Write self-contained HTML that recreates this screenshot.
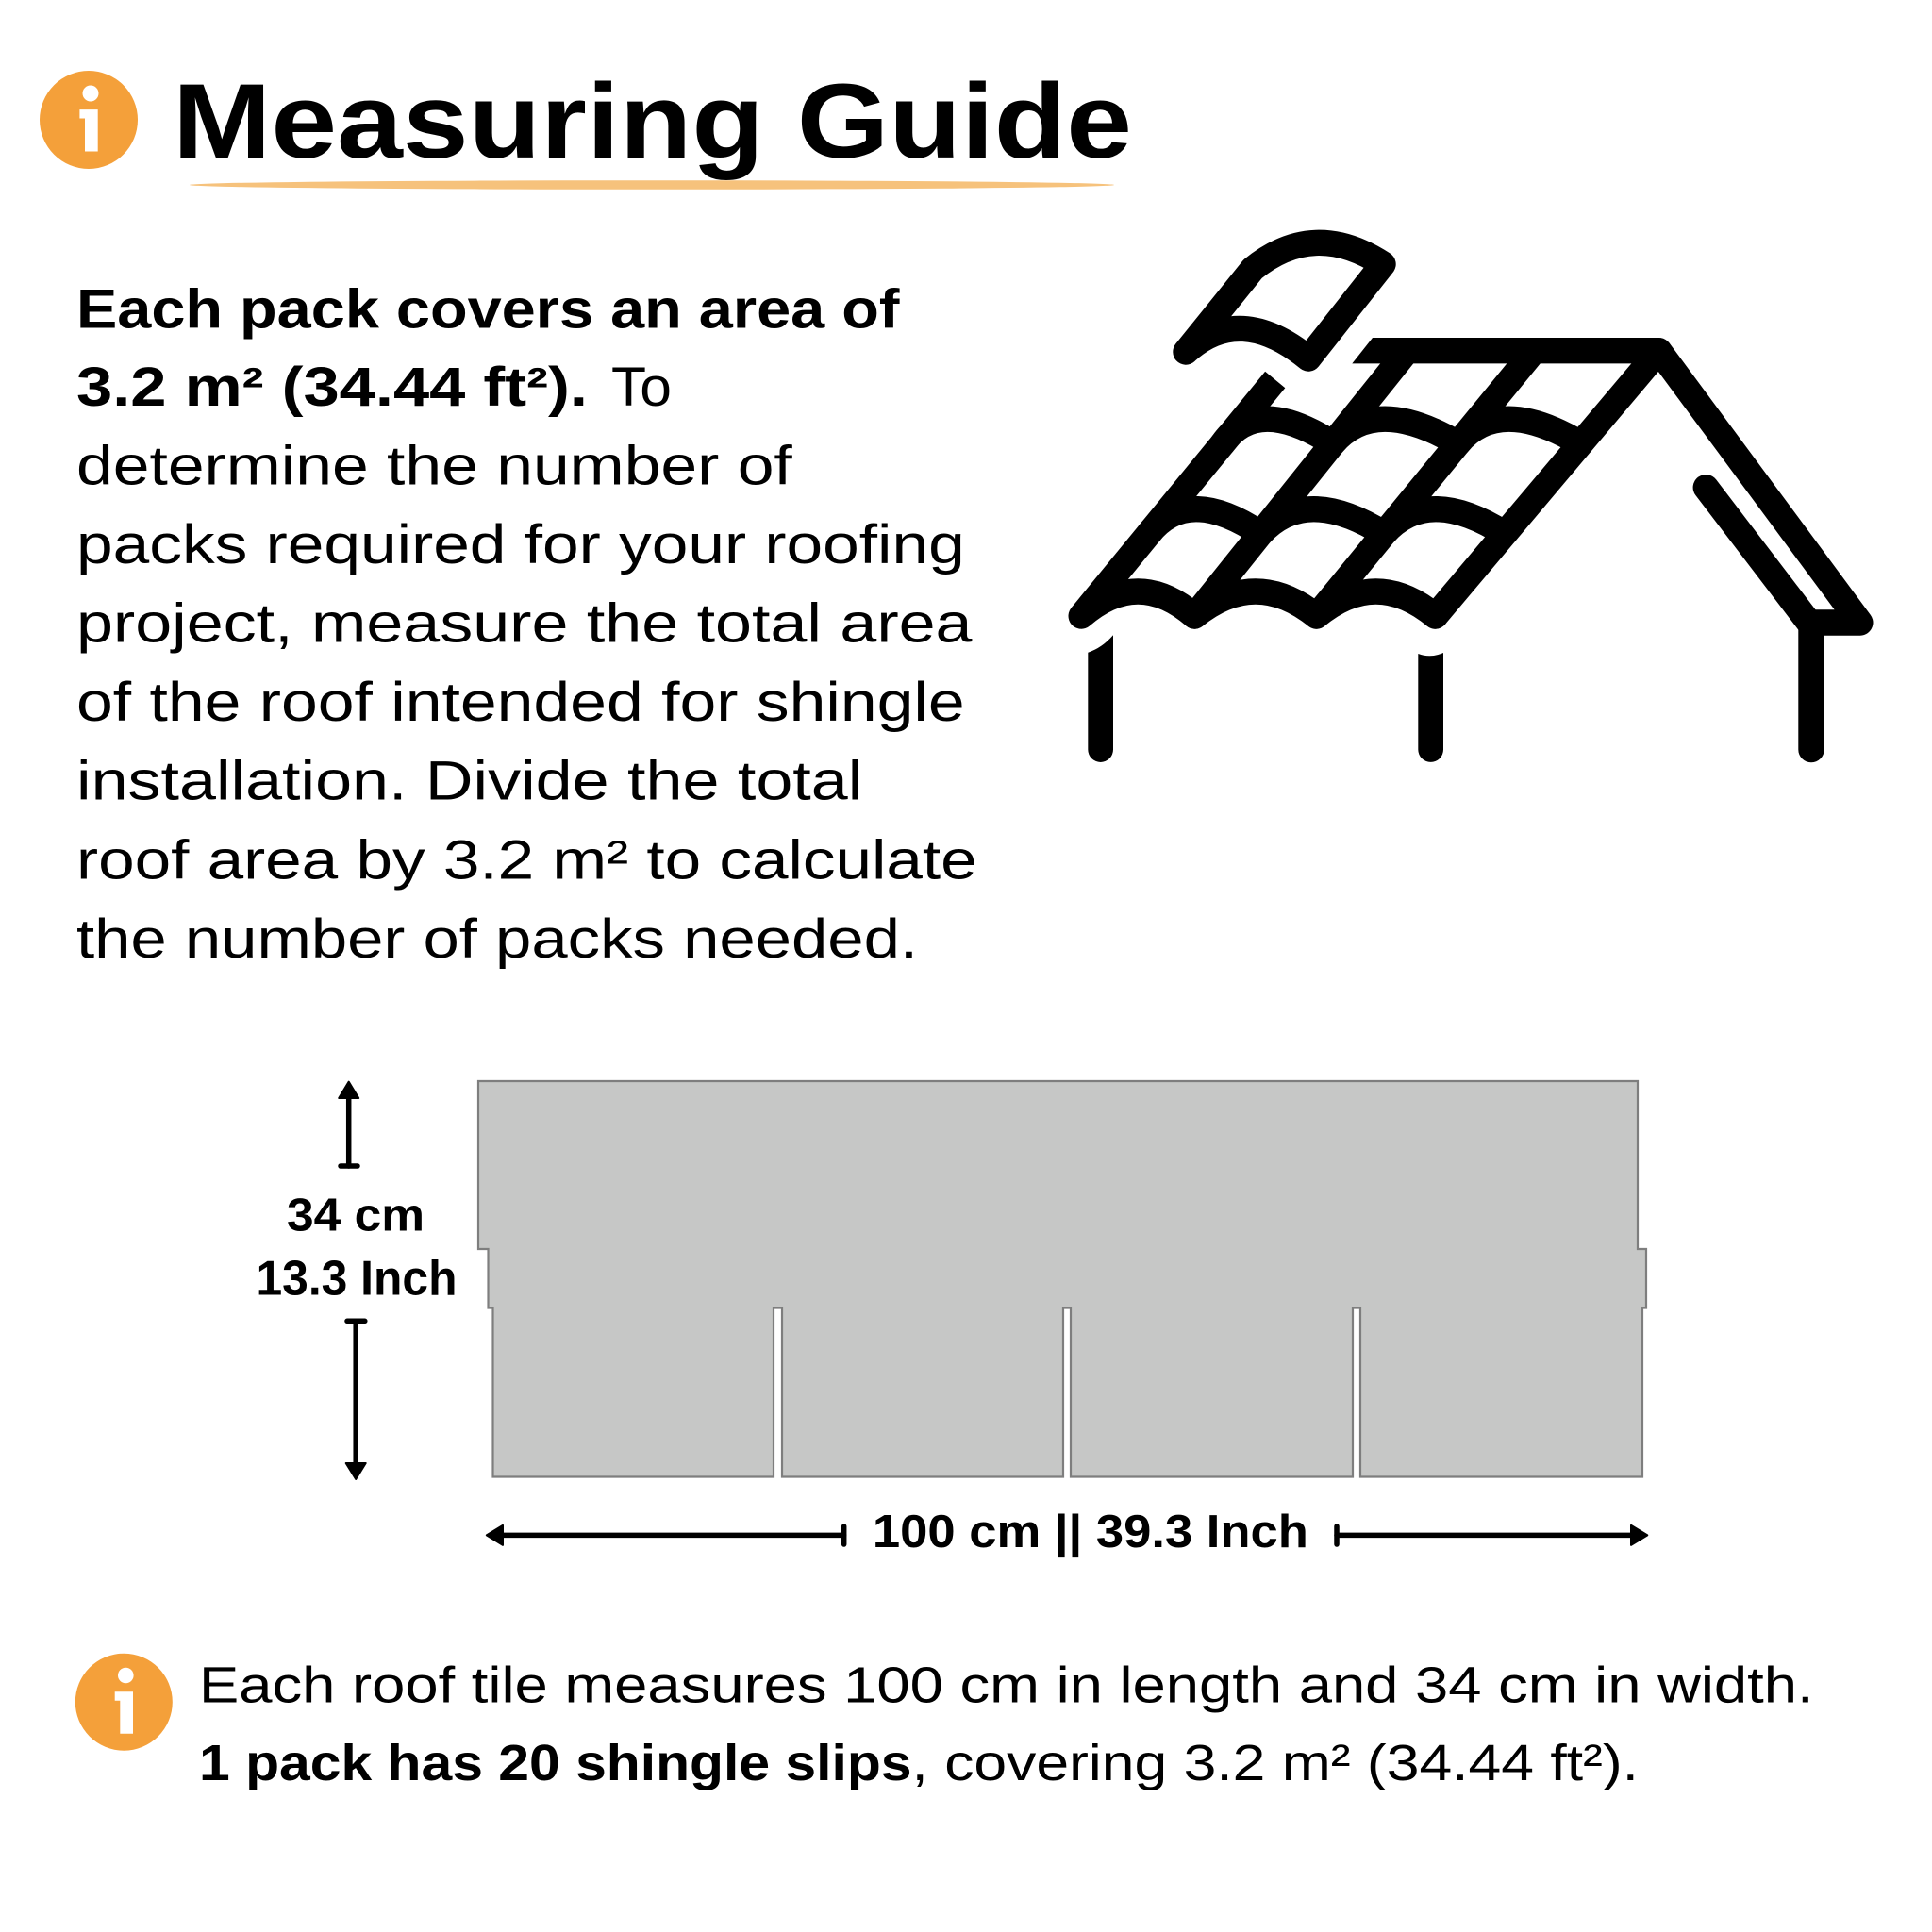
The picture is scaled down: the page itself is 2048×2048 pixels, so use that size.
<!DOCTYPE html>
<html>
<head>
<meta charset="utf-8">
<style>
  html, body { margin: 0; padding: 0; background: #ffffff; }
  svg { display: block; }
  text { font-family: "Liberation Sans", "DejaVu Sans", sans-serif; fill: #000; }
</style>
</head>
<body>
<svg xmlns="http://www.w3.org/2000/svg" width="2048" height="2048" viewBox="0 0 2048 2048">
  <rect x="0" y="0" width="2048" height="2048" fill="#ffffff"/>

  <!-- Title icon -->
  <g transform="translate(94,127)">
    <circle r="52" fill="#F4A03A"/>
    <circle cx="2" cy="-28" r="8.5" fill="#fff"/>
    <path d="M-9.6,-10.9 H9.7 V33.5 H-4 V-1.5 H-9.6 Z" fill="#fff"/>
  </g>

  <!-- Title underline -->
  <ellipse cx="691" cy="196" rx="490" ry="4.8" fill="#F6C27C"/>

  <!-- Title -->
  <text x="183" y="167" font-size="112" font-weight="bold" textLength="1017" lengthAdjust="spacingAndGlyphs">Measuring Guide</text>

  <!-- Paragraph -->
  <g font-size="58">
    <text x="81" y="347.5" font-weight="bold" textLength="872.5" lengthAdjust="spacingAndGlyphs">Each pack covers an area of</text>
    <text x="81" y="430" font-weight="bold" textLength="542" lengthAdjust="spacingAndGlyphs">3.2 m² (34.44 ft²).</text>
    <text x="648" y="430" textLength="64" lengthAdjust="spacingAndGlyphs">To</text>
    <text x="81" y="513.5" textLength="758.8" lengthAdjust="spacingAndGlyphs">determine the number of</text>
    <text x="81" y="597" textLength="941.7" lengthAdjust="spacingAndGlyphs">packs required for your roofing</text>
    <text x="81" y="680.5" textLength="949.5" lengthAdjust="spacingAndGlyphs">project, measure the total area</text>
    <text x="81" y="764" textLength="941.7" lengthAdjust="spacingAndGlyphs">of the roof intended for shingle</text>
    <text x="81" y="847.5" textLength="833.3" lengthAdjust="spacingAndGlyphs">installation. Divide the total</text>
    <text x="81" y="931.5" textLength="954.7" lengthAdjust="spacingAndGlyphs">roof area by 3.2 m² to calculate</text>
    <text x="81" y="1015" textLength="892" lengthAdjust="spacingAndGlyphs">the number of packs needed.</text>
  </g>

  <!-- House icon -->
  <g fill="none" stroke="#000" stroke-width="27.4" stroke-linecap="round" stroke-linejoin="round">
    <!-- flying tile -->
    <path d="M1257,373 L1328,285 Q1393,232.3 1466,280 L1387,380 Q1314,320.5 1257,373 Z"/>
    <!-- column lines -->
    <line x1="1351.7" y1="402.5" x2="1146.2" y2="653" stroke-linecap="butt"/>
    <line x1="1491.4" y1="372" x2="1266.3" y2="653"/>
    <line x1="1626" y1="372" x2="1395.5" y2="653"/>
    <line x1="1758.5" y1="372" x2="1521.4" y2="653"/>
    <!-- tile rows -->
    <path d="M1146.2,653 Q1206.25,601 1266.3,653 Q1330.9,601 1395.5,653 Q1458.45,601 1521.4,653"/>
    <path d="M1217.8,565.7 Q1259,513.7 1336.3,565.7 Q1383.7,513.7 1467.1,565.7 Q1513,513.7 1595,565.7"/>
    <path d="M1296.1,470.2 Q1332.5,418.2 1412.8,470.2 Q1457.1,418.2 1545.4,470.2 Q1588.5,418.2 1675.5,470.2"/>
    <!-- right slope, eave, right wall -->
    <path d="M1758.5,371.7 L1971.8,660 L1920,660 L1920,794.6"/>
    <!-- inner right line -->
    <path d="M1808.3,516.7 L1920,663"/>
  </g>
  <!-- ridge bar -->
  <polygon points="1455,358 1758.5,358 1758.5,385.4 1433.3,385.4" fill="#000"/>
  <!-- walls -->
  <path d="M1153.3,691.7 Q1168,687 1180,673.3 L1180,794.6 A13.35,13.35 0 0 1 1153.3,794.6 Z" fill="#000"/>
  <path d="M1503.3,693 Q1516.7,698 1530,692 L1530,794.6 A13.35,13.35 0 0 1 1503.3,794.6 Z" fill="#000"/>

  <!-- Shingle -->
  <path d="M507,1146 H1736 V1324 H1745 V1386.5 H1741 V1565.5 H1442 V1386.5 H1434 V1565.5 H1135 V1386.5 H1127 V1565.5 H829 V1386.5 H820 V1565.5 H522.5 V1386.5 H517.5 V1324 H507 Z"
        fill="#C6C7C6" stroke="#7E7E7E" stroke-width="2.2"/>

  <!-- Arrows -->
  <g stroke="#000" stroke-width="5.5" stroke-linecap="round" fill="none">
    <line x1="369.7" y1="1160" x2="369.7" y2="1236"/>
    <line x1="361" y1="1236" x2="379" y2="1236"/>
    <line x1="377.2" y1="1400.3" x2="377.2" y2="1555"/>
    <line x1="368" y1="1400.3" x2="386.8" y2="1400.3"/>
    <line x1="530" y1="1627.4" x2="894.7" y2="1627.4"/>
    <line x1="894.7" y1="1618" x2="894.7" y2="1637"/>
    <line x1="1417" y1="1627.4" x2="1733" y2="1627.4"/>
    <line x1="1417" y1="1618" x2="1417" y2="1637"/>
  </g>
  <g fill="#000" stroke="#000" stroke-width="2" stroke-linejoin="round">
    <polygon points="369.7,1146.7 380.2,1164 359.2,1164"/>
    <polygon points="377.2,1568 387.7,1551 366.7,1551"/>
    <polygon points="515.8,1627.4 533,1616.9 533,1637.9"/>
    <polygon points="1746.3,1627.4 1729,1616.9 1729,1637.9"/>
  </g>

  <!-- Shingle labels -->
  <g font-weight="bold">
    <text x="377" y="1304.7" font-size="49" text-anchor="middle" textLength="146" lengthAdjust="spacingAndGlyphs">34 cm</text>
    <text x="378" y="1372.4" font-size="52" text-anchor="middle" textLength="213" lengthAdjust="spacingAndGlyphs">13.3 Inch</text>
    <text x="1155.9" y="1640" font-size="49" text-anchor="middle" textLength="462" lengthAdjust="spacingAndGlyphs">100 cm || 39.3 Inch</text>
  </g>

  <!-- Bottom info icon -->
  <g transform="translate(131.3,1804.2)">
    <circle r="51.5" fill="#F4A03A"/>
    <circle cx="2" cy="-28.2" r="8.3" fill="#fff"/>
    <path d="M-9.6,-10.9 H9.7 V33.5 H-4 V-1.5 H-9.6 Z" fill="#fff"/>
  </g>

  <!-- Bottom text -->
  <text x="211" y="1804.5" font-size="54" textLength="1711.6" lengthAdjust="spacingAndGlyphs">Each roof tile measures 100 cm in length and 34 cm in width.</text>
  <text x="211" y="1887" font-size="54" font-weight="bold" textLength="755.5" lengthAdjust="spacingAndGlyphs">1 pack has 20 shingle slips</text>
  <text x="966.5" y="1887" font-size="54" textLength="770.5" lengthAdjust="spacingAndGlyphs">, covering 3.2 m² (34.44 ft²).</text>
</svg>
</body>
</html>
